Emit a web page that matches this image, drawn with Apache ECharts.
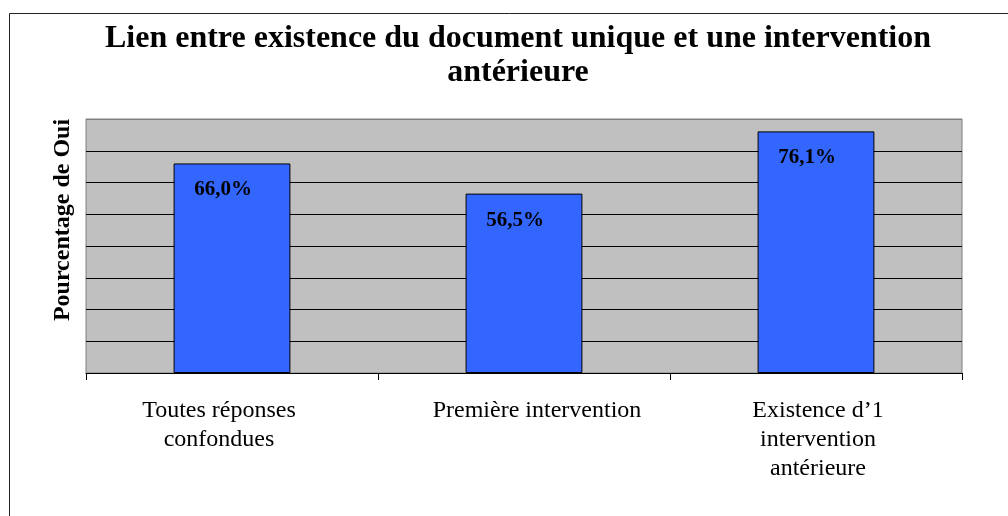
<!DOCTYPE html>
<html>
<head>
<meta charset="utf-8">
<script src="https://cdn.jsdelivr.net/npm/echarts@6/dist/echarts.min.js"></script>
<style>
  html, body { margin: 0; padding: 0; background: #fff; }
  #chart { width: 1008px; height: 516px; }
</style>
</head>
<body>
<div id="chart"></div>
<script>
// données
const categories = ['Toutes réponses\nconfondues', 'Première intervention', 'Existence d\u20191\nintervention\nantérieure'];
const pctOui = [66.0, 56.5, 76.1];
const yTicks = [0, 10, 20, 30, 40, 50, 60, 70, 80];

const serif = '"Liberation Serif", "DejaVu Serif", serif';

const chart = echarts.init(document.getElementById('chart'));

const catFont = { fontFamily: serif, fontSize: 24, lineHeight: 29, color: '#000' };

const option = {
  backgroundColor: '#fff',
  animation: false,
  title: {
    text: 'Lien entre existence du document unique et une intervention\nantérieure',
    left: 518,
    top: 22,
    padding: 0,
    textAlign: 'center',
    textStyle: {
      fontFamily: serif,
      fontWeight: 'bold',
      fontSize: 32,
      lineHeight: 34,
      color: '#000'
    }
  },
  graphic: [{
    type: 'rect',
    shape: { x: 9.5, y: 13.5, width: 1100, height: 600 },
    style: { fill: 'none', stroke: '#222', lineWidth: 1 },
    silent: true
  }],
  grid: {
    left: 86,
    right: 46,
    top: 119,
    bottom: 143,
    show: true,
    backgroundColor: '#c0c0c0',
    borderColor: '#808080',
    borderWidth: 1
  },
  xAxis: {
    type: 'category',
    data: categories,
    axisLine: { lineStyle: { color: '#000', width: 1 } },
    axisTick: { show: true, length: 7, lineStyle: { color: '#000' } },
    axisLabel: {
      margin: 23,
      interval: 0,
      ...catFont,
      formatter: (v, i) => v.split('\n').map(s => '{c' + i + '|' + s + '}').join('\n'),
      rich: {
        c0: { ...catFont, padding: [0, 26, 0, 0] },
        c1: { ...catFont, padding: [0, 0, 0, 26] },
        c2: { ...catFont, padding: [0, 0, 0, 4] }
      }
    }
  },
  yAxis: {
    type: 'value',
    min: yTicks[0],
    max: yTicks[yTicks.length - 1],
    interval: 10,
    name: 'Pourcentage de Oui',
    nameLocation: 'middle',
    nameGap: 11,
    nameTextStyle: {
      fontFamily: serif,
      fontWeight: 'bold',
      fontSize: 24,
      color: '#000',
      padding: [0, 0, 0, 52]
    },
    axisLine: { show: false },
    axisTick: { show: false },
    axisLabel: { show: false },
    splitLine: {
      lineStyle: {
        // la dernière ligne (haut) reste grise comme le cadre
        color: yTicks.map((t, i) => i === yTicks.length - 1 ? '#808080' : '#000'),
        width: 1
      }
    }
  },
  series: [{
    type: 'bar',
    data: pctOui,
    barWidth: '40%',
    itemStyle: {
      color: '#3366ff',
      borderColor: '#000',
      borderWidth: 1
    },
    label: {
      show: true,
      position: 'insideTop',
      distance: 16,
      offset: [-9, 0],
      fontFamily: serif,
      fontWeight: 'bold',
      fontSize: 21,
      color: '#000',
      formatter: p => p.value.toFixed(1).replace('.', ',') + '%'
    }
  }]
};

chart.setOption(option);
</script>
</body>
</html>
